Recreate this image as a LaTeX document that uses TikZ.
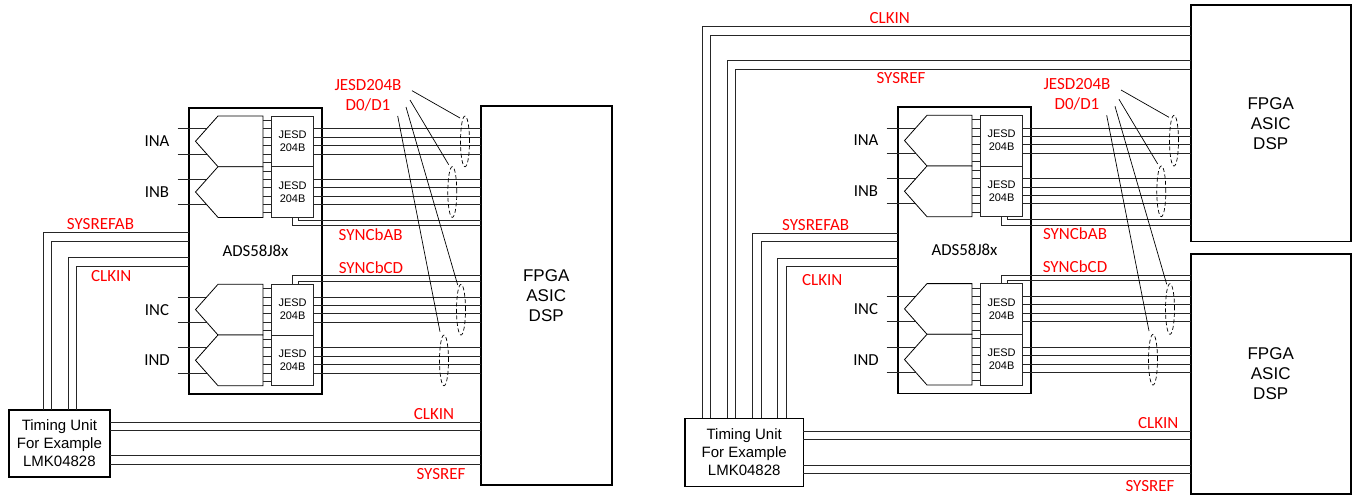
\documentclass[tikz,border=0pt]{standalone}
\usepackage{fontspec}
\setmainfont{Liberation Sans}
\newfontfamily\calibrifont{Carlito}
\usetikzlibrary{shapes.geometric}

\tikzset{
  sig/.style={line width=0.8pt, black!85},
  boxed/.style={draw, line width=1.6pt, fill=white, inner sep=0pt, outer sep=0pt, align=center},
  jesdbox/.style={draw, line width=0.8pt, black!85, fill=white, inner sep=0pt, outer sep=0pt, align=center,
    minimum width=42.2pt, minimum height=50.7pt, text=black, font=\fontsize{11}{13}\selectfont},
  hoop/.style={draw, ellipse, dashed, dash pattern=on 4pt off 2.5pt, line width=0.7pt, inner sep=0pt, outer sep=0pt,
    minimum width=9pt, minimum height=50.7pt},
  redlbl/.style={red, font=\calibrifont\fontsize{17}{20}\selectfont},
  inlbl/.style={font=\calibrifont\fontsize{16.8}{20}\selectfont},
  bigtxt/.style={font=\fontsize{17}{20}\selectfont},
  timetxt/.style={font=\fontsize{15}{18}\selectfont}
}

\begin{document}
\begin{tikzpicture}[x=1pt, y=-1pt]
  \useasboundingbox (0,0) rectangle (1353,495);
  % receiver blocks
  \node[boxed, bigtxt, minimum width=131pt, minimum height=379pt] (fpgaA) at (546.2,295.5) {FPGA\\ASIC\\DSP};
  \node[boxed, bigtxt, minimum width=160pt, minimum height=236pt] (fpgaBa) at (1270.7,123.3) {FPGA\\ASIC\\DSP};
  \node[boxed, bigtxt, minimum width=160pt, minimum height=240pt] (fpgaBb) at (1270.7,374) {FPGA\\ASIC\\DSP};
  % timing units
  \node[boxed, timetxt, minimum width=101.3pt, minimum height=67pt] (timeA) at (59.4,443.2) {Timing Unit\\For Example\\LMK04828};
  \node[boxed, timetxt, minimum width=118.3pt, minimum height=68pt] (timeB) at (744.2,452.3) {Timing Unit\\For Example\\LMK04828};
  % converter, same drawing twice
  \foreach \s/\dx/\dy/\fab/\fcd in {A/0/0/fpgaA/fpgaA, B/709/-0.7/fpgaBa/fpgaBb} {
    \begin{scope}[shift={(\dx,\dy)}]
      \node[boxed, inlbl, minimum width=133pt, minimum height=286.3pt] (adc\s) at (255.5,250.9) {ADS58J8x};
      % analog inputs
      \foreach \y in {128.7,154,179.3,204.3,297,322.3,347.7,373}
        \draw[sig] (177.7,\y) -- (210,\y);
      \foreach \y in {116,166.7,284.3,335}
        \draw[line width=0.8pt, fill=white] (218,\y) -- (263,\y) -- (263,\y+50.7) -- (218,\y+50.7) -- (195.5,\y+25.3) -- cycle;
      \node[inlbl] (ina\s) at (157,141) {INA};
      \node[inlbl] (inb\s) at (157,192) {INB};
      \node[inlbl] (inc\s) at (157,310) {INC};
      \node[inlbl] (ind\s) at (157,360.5) {IND};
      % serializer blocks
      \node[jesdbox] (jesd\s1) at (292.6,141.4) {JESD\\204B};
      \node[jesdbox] (jesd\s2) at (292.6,192) {JESD\\204B};
      \node[jesdbox] (jesd\s3) at (292.6,309.7) {JESD\\204B};
      \node[jesdbox] (jesd\s4) at (292.6,360.4) {JESD\\204B};
      \foreach \y in {120.3,128.7,137,145.5,154,162.3,171,179.3,187.7,196,204.3,212.7,288.7,297,305.3,313.7,322.3,330.7,339.3,347.7,356,364.7,373,381.3}
        \draw[sig] (263,\y) -- (271.5,\y);
      % lanes
      \foreach \y in {128.7,137,145.5,154,179.3,187.7,196,204.3}
        \draw[sig] (jesd\s1.east |- 0,\y) -- (\fab.west |- 0,\y);
      \foreach \y in {297,305.3,313.7,322.3,347.7,356,364.7,373}
        \draw[sig] (jesd\s3.east |- 0,\y) -- (\fcd.west |- 0,\y);
      % sync returns
      \draw[sig] (jesd\s2.south) -- (292.6,225.7) -- (\fab.west |- 0,225.7);
      \draw[sig] (298.7,217) -- (298.7,220.3) -- (\fab.west |- 0,220.3);
      \draw[sig] (jesd\s3.north) -- (292.6,275.7) -- (\fcd.west |- 0,275.7);
      \draw[sig] (298.7,284.3) -- (298.7,281) -- (\fcd.west |- 0,281);
      % lane groups and their leaders
      \foreach \i/\ex/\ey/\a/\b/\c/\d in {
        1/465/141.4/412/90.7/460/118,
        2/452.3/192/410/100/448.7/164.7,
        3/461/309.7/406/107/457.7/285,
        4/444/360.4/397.7/116/440/331.7
      } {
        \node[hoop] (hoop\s\i) at (\ex,\ey) {};
        \coordinate (from\s\i) at (\a,\b);
        \coordinate (to\s\i) at (\c,\d);
        \draw[line width=0.7pt] (from\s\i) -- (to\s\i);
      }
      \node[redlbl] (jesdname\s) at (368,85) {JESD204B};
      \node[redlbl] (lanes\s) at (368,105) {D0/D1};
    \end{scope}
  }
  % clocks to the converters and receivers
  \foreach \x/\y in {43/232.7,51/241,68/257.7,76.3/266.3}
    \draw[sig] (\x,0 |- timeA.north) -- (\x,\y) -- (adcA.west |- 0,\y);
  \foreach \x/\y in {752.7/233.3,761/241.7,777.7/258.3,786.3/266.7}
    \draw[sig] (\x,0 |- timeB.north) -- (\x,\y) -- (adcB.west |- 0,\y);
  \foreach \x/\y in {702/26.7,710.3/35,727.3/60.7,735.7/69}
    \draw[sig] (\x,0 |- timeB.north) -- (\x,\y) -- (fpgaBa.west |- 0,\y);
  \foreach \y in {422,430.3,455.7,464}
    \draw[sig] (timeA.east |- 0,\y) -- (fpgaA.west |- 0,\y);
  \foreach \y in {431,439.7,465,473.3}
    \draw[sig] (timeB.east |- 0,\y) -- (fpgaBb.west |- 0,\y);
  % signal names
  \foreach \n/\x/\y/\t in {
    a/370.7/235/SYNCbAB, b/371/267.7/SYNCbCD, c/100.5/224/SYSREFAB, d/111.3/276/CLKIN,
    e/434/414/CLKIN, f/441/474/SYSREF,
    g/889.7/17.7/CLKIN, h/901/77.7/SYSREF, i/815.7/225/SYSREFAB, j/822.3/280/CLKIN,
    k/1075/234/SYNCbAB, l/1075/266.7/SYNCbCD, m/1158.3/423/CLKIN, n/1150/486/SYSREF
  } {\node[redlbl] (name\n) at (\x,\y) {\t};}
\end{tikzpicture}
\end{document}
